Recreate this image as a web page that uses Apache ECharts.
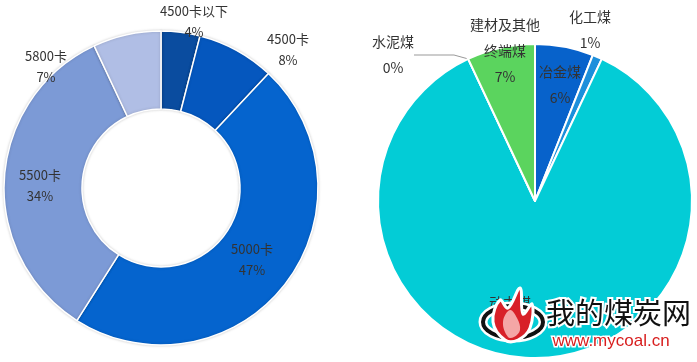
<!DOCTYPE html>
<html><head><meta charset="utf-8">
<script src="https://cdn.jsdelivr.net/npm/echarts@6/dist/echarts.min.js"></script>
<style>html,body{margin:0;padding:0;background:#fff}#c{width:697px;height:362px}</style>
</head><body><div id="c"></div>
<script>
// Left donut: heat value grades
var leftNames = ['4500卡以下', '4500卡', '5000卡', '5500卡', '5800卡'];
var leftValues = [4, 8, 47, 34, 7];
// Right pie: coal usage
var rightNames = ['冶金煤', '化工煤', '动力煤', '水泥煤', '建材及其他终端煤'];
var rightValues = [6, 1, 86, 0, 7];

var leftColors = ['#0A4C9F', '#0557BE', '#0564CE', '#7C9AD6', '#B0BEE5'];
var rightColors = ['#0762CB', '#1C8FDB', '#03CCD6', '#888888', '#5BD45E'];
var leftLabelPos = [[194, 22], [288, 50], [252, 260], [40, 186], [46, 67]];
var rightLabelPos = [[560, 85], [590, 30], [510, 316], [393, 55], [505, 51]];

var chart = echarts.init(document.getElementById('c'), null, {renderer: 'canvas'});
var font = '"Noto Sans CJK SC", "Noto Sans", sans-serif';

function mk(names, vals, colors) {
  return names.map(function (n, i) {
    return {name: n, value: vals[i], itemStyle: {color: colors[i]}};
  });
}

chart.setOption({
  animation: false,
  series: [{
    type: 'pie',
    center: [161, 188],
    radius: [79, 157],
    startAngle: 90,
    clockwise: true,
    avoidLabelOverlap: false,
    itemStyle: {borderColor: '#fff', borderWidth: 1.5, shadowBlur: 3, shadowColor: 'rgba(0,0,0,0.18)'},
    label: {
      show: true, position: 'inside', formatter: '{b}\n{d}%',
      fontFamily: font, fontSize: 13, lineHeight: 21, color: '#333'
    },
    labelLine: {show: false},
    labelLayout: function (p) {
      var q = leftLabelPos[p.dataIndex];
      return {x: q[0], y: q[1], align: 'center', verticalAlign: 'middle'};
    },
    data: mk(leftNames, leftValues, leftColors)
  }, {
    type: 'pie',
    center: [535, 201],
    radius: [0, 157],
    startAngle: 90,
    clockwise: true,
    avoidLabelOverlap: false,
    itemStyle: {borderColor: '#fff', borderWidth: 2},
    label: {
      show: true, position: 'outside',
      formatter: function (p) {
        var n = p.name.length > 5 ? p.name.slice(0, 5) + '\n' + p.name.slice(5) : p.name;
        return n + '\n' + p.percent + '%';
      },
      fontFamily: font, fontSize: 14, lineHeight: 26, color: '#333'
    },
    labelLine: {show: false},
    labelLayout: function (p) {
      var q = rightLabelPos[p.dataIndex];
      return {x: q[0], y: q[1], align: 'center', verticalAlign: 'middle'};
    },
    data: mk(rightNames, rightValues, rightColors).map(function (d, i) {
      if (i === 3) {
        d.labelLine = {show: true, length: 10, length2: 40, lineStyle: {color: '#999', width: 1}};
      }
      return d;
    })
  }],
  graphic: [
    {type: 'ellipse', z: 100, shape: {cx: 513, cy: 322, rx: 30, ry: 16},
     style: {fill: 'none', stroke: '#fff', lineWidth: 9}},
    {type: 'ellipse', z: 101, shape: {cx: 513, cy: 322, rx: 30, ry: 16},
     style: {fill: 'none', stroke: '#111', lineWidth: 4}},
    {type: 'polygon', z: 102, shape: {smooth: 0.4, points: [[505,340],[493,322],[500,300],[508,308],[520,288],[523,314],[532,304],[530,328],[518,340]]},
     style: {fill: '#D82028', stroke: '#fff', lineWidth: 3}},
    {type: 'polygon', z: 103, shape: {smooth: 0.4, points: [[508,337],[503,322],[510,310],[517,318],[520,330],[514,337]]},
     style: {fill: '#F4A6A6'}},
    {type: 'text', z: 104, left: 544, top: 296,
     style: {text: '我的煤炭网', fontFamily: font, fontSize: 29, fill: '#111', stroke: '#fff', lineWidth: 4}},
    {type: 'text', z: 104, left: 551, top: 331,
     style: {text: 'www.mycoal.cn', fontFamily: 'Arial, "Liberation Sans", sans-serif', fontSize: 17, fill: '#D81E1E', stroke: '#fff', lineWidth: 3}}
  ]
});
</script></body></html>
